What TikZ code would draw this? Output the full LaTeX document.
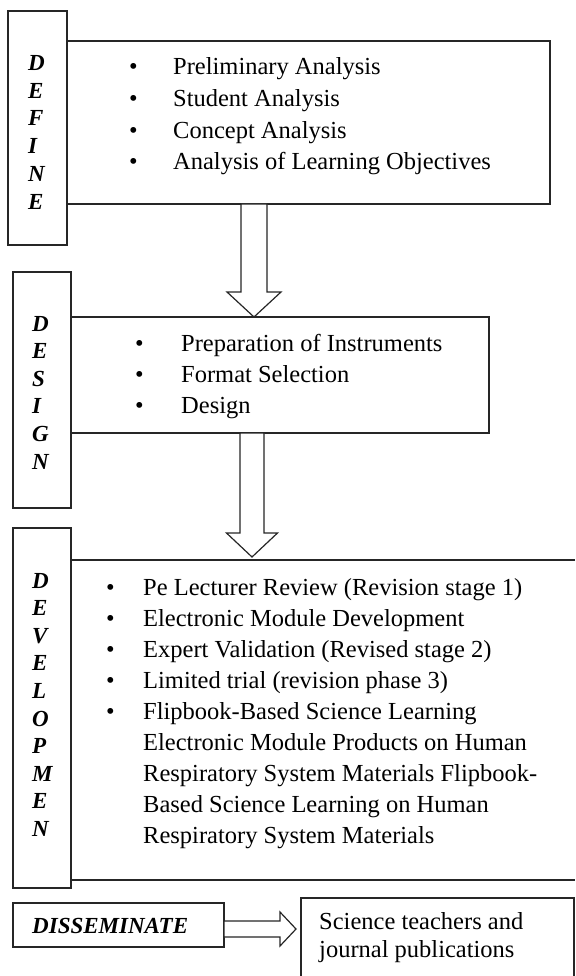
\documentclass[tikz,border=0pt]{standalone}
\usepackage{fontspec}
\setmainfont{Liberation Serif}
\usetikzlibrary{calc}
\tikzset{
  box/.style={draw=black!85, line width=1.2pt, rectangle, inner sep=0pt, outer sep=0pt, anchor=north west},
  openbox/.style={rectangle, inner sep=0pt, outer sep=0pt, anchor=north west},
  ln/.style={draw=black!85, line width=1.2pt},
  blk/.style={draw=black!85, line width=1.2pt, fill=white, line join=miter},
  itemtxt/.style={anchor=base west, inner sep=0pt, font=\fontsize{24.5}{30}\selectfont},
  lettr/.style={anchor=base west, inner sep=0pt, font=\fontsize{23}{27}\selectfont\bfseries\itshape},
}
\newcommand{\vblk}[5]{%
  \draw[blk] ($(#1)+(-#3,0)$) -- ($(#2)+(-#3,-#5)$) -- ($(#2)+(-#4,-#5)$) -- (#2)
    -- ($(#2)+(#4,-#5)$) -- ($(#2)+(#3,-#5)$) -- ($(#1)+(#3,0)$) -- cycle;}
\begin{document}
\begin{tikzpicture}[x=1pt,y=-1pt]
\useasboundingbox (0,0) rectangle (575,976);

% ---------- DEFINE ----------
\node[box, minimum width=59pt, minimum height=234pt] (dfl) at (8,11) {};
\node[box, minimum width=483pt, minimum height=163pt] (dfc) at (67,41) {};
\foreach \l [count=\i from 0] in {D,E,F,I,N,E}
  \node[lettr] (dfl\i) at (28,{70.6+27.7*\i}) {\l};
\node[itemtxt] (df1) at (129,75)    {\makebox[44pt][l]{\textbullet}Preliminary Analysis};
\node[itemtxt] (df2) at (129,106.7) {\makebox[44pt][l]{\textbullet}Student Analysis};
\node[itemtxt] (df3) at (129,138.4) {\makebox[44pt][l]{\textbullet}Concept Analysis};
\node[itemtxt] (df4) at (129,170)   {\makebox[44pt][l]{\textbullet}Analysis of Learning Objectives};

% ---------- DESIGN ----------
\node[box, minimum width=58pt, minimum height=236pt] (dsl) at (13,272) {};
\node[box, minimum width=418pt, minimum height=116pt] (dsc) at (71,317) {};
\foreach \l [count=\i from 0] in {D,E,S,I,G,N}
  \node[lettr] (dsl\i) at (32,{331+27.6*\i}) {\l};
\node[itemtxt] (ds1) at (135,351) {\makebox[46pt][l]{\textbullet}Preparation of Instruments};
\node[itemtxt] (ds2) at (135,382) {\makebox[46pt][l]{\textbullet}Format Selection};
\node[itemtxt] (ds3) at (135,413) {\makebox[46pt][l]{\textbullet}Design};

% ---------- DEVELOP ----------
\node[box, minimum width=58pt, minimum height=360pt] (dvl) at (13,528) {};
\node[openbox, minimum width=504pt, minimum height=320pt] (dvc) at (71,560) {};
\draw[ln] (dvc.north east) -- (dvc.north west) -- (dvc.south west) -- (dvc.south east);
\foreach \l [count=\i from 0] in {D,E,V,E,L,O,P,M,E,N}
  \node[lettr] (dvl\i) at (32,{588+27.6*\i}) {\l};
\node[itemtxt] (dv1) at (106,595)   {\makebox[37pt][l]{\textbullet}Pe Lecturer Review (Revision stage 1)};
\node[itemtxt] (dv2) at (106,626.1) {\makebox[37pt][l]{\textbullet}Electronic Module Development};
\node[itemtxt] (dv3) at (106,657.2) {\makebox[37pt][l]{\textbullet}Expert Validation (Revised stage 2)};
\node[itemtxt] (dv4) at (106,688.3) {\makebox[37pt][l]{\textbullet}Limited trial (revision phase 3)};
\node[itemtxt] (dv5) at (106,719.4) {\makebox[37pt][l]{\textbullet}Flipbook-Based Science Learning};
\node[itemtxt] (dv6) at (143,750.5) {Electronic Module Products on Human};
\node[itemtxt] (dv7) at (143,781.6) {Respiratory System Materials Flipbook-};
\node[itemtxt] (dv8) at (143,812.7) {Based Science Learning on Human};
\node[itemtxt] (dv9) at (143,843.8) {Respiratory System Materials};

% ---------- DISSEMINATE ----------
\node[box, minimum width=211pt, minimum height=44pt] (dsm) at (13,903) {};
\node[lettr] (dsmt) at (32,933) {DISSEMINATE};
\node[openbox, minimum width=273pt, minimum height=80pt] (res) at (301,898) {};
\draw[ln] (res.south west) -- (res.north west) -- (res.north east) -- (res.south east);
\node[itemtxt] (res1) at (319,929) {Science teachers and};
\node[itemtxt] (res2) at (319,957) {journal publications};

% ---------- block arrows ----------
\coordinate (a1tail) at (254,204);
\coordinate (a1tip)  at (254,317);
\vblk{a1tail}{a1tip}{13}{27}{25}
\coordinate (a2tail) at (252,433);
\coordinate (a2tip)  at (252,557);
\vblk{a2tail}{a2tip}{12}{25.5}{24}
\coordinate (a3tail) at (224,929);
\coordinate (a3tip)  at (296,929);
\draw[blk] ($(a3tail)+(0,-8)$) -- ($(a3tip)+(-16,-8)$) -- ($(a3tip)+(-16,-17)$) -- (a3tip)
  -- ($(a3tip)+(-16,17)$) -- ($(a3tip)+(-16,8)$) -- ($(a3tail)+(0,8)$) -- cycle;
\end{tikzpicture}
\end{document}
